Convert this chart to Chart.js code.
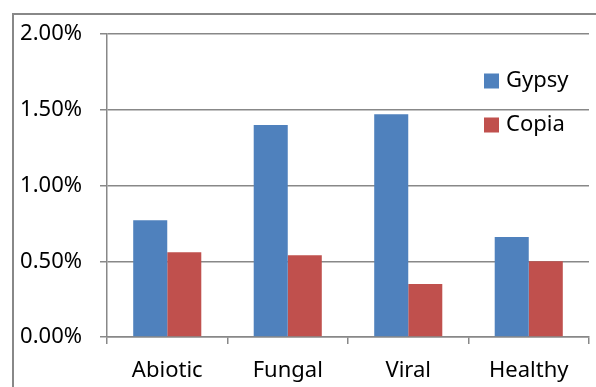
<!DOCTYPE html>
<html>
<head>
<meta charset="utf-8">
<script src="https://cdn.jsdelivr.net/npm/chart.js@4.4.0/dist/chart.umd.min.js"></script>
<style>
  html, body { margin: 0; padding: 0; background: #fff; overflow: hidden; }
  #wrap { width: 596px; height: 387px; position: relative; }
</style>
</head>
<body>
<div id="wrap"><canvas id="barChart" width="596" height="387"></canvas></div>
<script>
'use strict';

var categories = ['Abiotic', 'Fungal', 'Viral', 'Healthy'];
var seriesNames = ['Gypsy', 'Copia'];
var gypsyValues = [0.77, 1.40, 1.47, 0.66];
var copiaValues = [0.56, 0.54, 0.35, 0.50];
var yTicks = [0, 0.5, 1.0, 1.5, 2.0];

var blue = '#4F81BD';
var red = '#C0504D';
var gridGray = '#888888';
var fontFamily = '"Noto Sans", "Liberation Sans", sans-serif';

// outer frame, cropped at the right and bottom like the picture
var framePlugin = {
    id: 'frame',
    afterDraw: function (chart) {
        var ctx = chart.ctx;
        ctx.save();
        ctx.strokeStyle = gridGray;
        ctx.lineWidth = 2;
        ctx.beginPath();
        ctx.moveTo(13, 390);
        ctx.lineTo(13, 14);
        ctx.lineTo(600, 14);
        ctx.stroke();
        ctx.restore();
    }
};

// legend drawn inside the plot, on the right
var legendPlugin = {
    id: 'insideLegend',
    afterDraw: function (chart) {
        var ctx = chart.ctx;
        ctx.save();
        ctx.font = '22px ' + fontFamily;
        ctx.textBaseline = 'middle';
        chart.data.datasets.forEach(function (ds, i) {
            var y = 81 + i * 44;
            ctx.fillStyle = ds.backgroundColor;
            ctx.fillRect(484, y - 7.5, 15, 15);
            ctx.fillStyle = '#000';
            ctx.fillText(ds.label, 506, y);
        });
        ctx.restore();
    }
};

var barChart = new Chart(document.getElementById('barChart'), {
    type: 'bar',
    data: {
        labels: categories,
        datasets: [
            {
                label: seriesNames[0],
                data: gypsyValues,
                backgroundColor: blue,
                borderWidth: 0,
                categoryPercentage: 0.565,
                barPercentage: 1.0
            },
            {
                label: seriesNames[1],
                data: copiaValues,
                backgroundColor: red,
                borderWidth: 0,
                categoryPercentage: 0.565,
                barPercentage: 1.0
            }
        ]
    },
    options: {
        responsive: false,
        animation: false,
        layout: { padding: { top: 34, right: 7, left: 0, bottom: 0 } },
        plugins: {
            legend: { display: false },
            tooltip: { enabled: false }
        },
        scales: {
            x: {
                offset: true,
                grid: {
                    offset: true,
                    drawOnChartArea: false,
                    drawTicks: true,
                    tickLength: 7,
                    color: gridGray,
                    lineWidth: 1.5
                },
                border: { display: true, color: gridGray, width: 1.5 },
                ticks: {
                    color: '#000',
                    padding: 14,
                    font: { family: fontFamily, size: 22 }
                },
                afterFit: function (scale) { scale.height = 50; }
            },
            y: {
                min: 0,
                max: 2,
                afterBuildTicks: function (scale) {
                    scale.ticks = yTicks.map(function (v) { return { value: v }; });
                },
                grid: {
                    color: gridGray,
                    lineWidth: 1.5,
                    tickLength: 7
                },
                border: { display: true, color: gridGray, width: 1.5 },
                ticks: {
                    color: '#000',
                    padding: 18,
                    font: { family: fontFamily, size: 22 },
                    callback: function (v) { return v.toFixed(2) + '%'; }
                },
                afterFit: function (scale) { scale.width = 107; }
            }
        }
    },
    plugins: [framePlugin, legendPlugin]
});
</script>
</body>
</html>
